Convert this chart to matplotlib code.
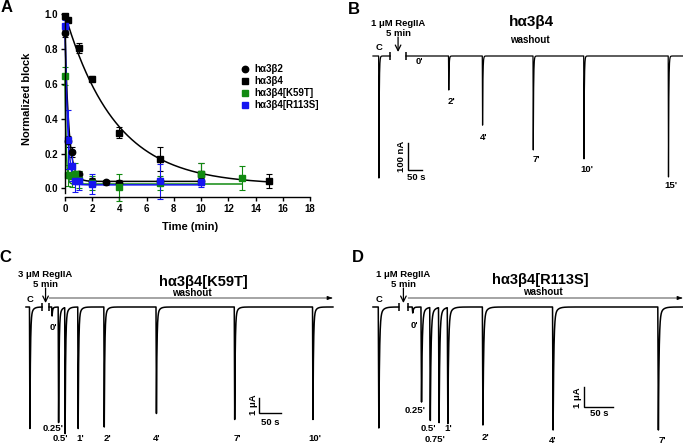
import numpy as np
import matplotlib
matplotlib.use('Agg')
import matplotlib.pyplot as plt

plt.rcParams['font.family'] = ['Liberation Sans', 'DejaVu Sans']
plt.rcParams['font.weight'] = 'bold'

W, H = 683, 444

# ---------- A: normalized block vs washout time (min)
b2_t = [0, 0.25, 0.5, 1, 2, 3, 4, 7, 10]
b2_y = [0.89, 0.27, 0.21, 0.08, 0.04, 0.035, 0.03, 0.04, 0.04]
b2_e = [0.02, 0.03, 0.03, 0.02, 0.02, 0.015, 0.02, 0.02, 0.02]

b4_t = [0, 0.25, 1, 2, 4, 7, 10, 15]
b4_y = [0.99, 0.97, 0.805, 0.63, 0.32, 0.17, 0.085, 0.04]
b4_e = [0.01, 0.01, 0.03, 0.015, 0.03, 0.07, 0.06, 0.04]

k59_t = [0, 0.25, 0.5, 0.75, 1, 2, 4, 7, 10, 13]
k59_y = [0.645, 0.075, 0.07, 0.085, 0.05, 0.03, 0.005, 0.03, 0.085, 0.06]
k59_e = [0.05, 0.06, 0.06, 0.06, 0.05, 0.04, 0.075, 0.04, 0.06, 0.07]

r113_t = [0, 0.25, 0.5, 0.75, 1, 2, 7, 10]
r113_y = [0.935, 0.28, 0.13, 0.04, 0.04, 0.025, 0.04, 0.035]
r113_e = [0.03, 0.17, 0.09, 0.06, 0.05, 0.06, 0.1, 0.03]

# one-phase decay fits: start, plateau, rate (1/min), last time
b2_fit = (0.89, 0.04, 3.5, 10)
b4_fit = (1.0, 0.02, 0.27, 15)
k59_fit = (0.645, 0.025, 12.0, 13)
r113_fit = (0.935, 0.02, 5.0, 10)

# ---------- B: ha3b4, 1 uM RegIIA (nA, s)
B_ctrl = (21, 452)          # time, peak
B_break = (61, 117)
B_zero, B_end = 149, 1107
B_wash = [0, 2, 4, 7, 10, 15]
B_amp = [0, 126, 256, 348, 381, 448]

# ---------- C: ha3b4[K59T], 3 uM RegIIA (uA, s)
C_ctrl = (9, 8.1)
C_break = (37, 53)
C_zero, C_end = 60, 706
C_wash = [0, 0.25, 0.5, 1, 2, 4, 7, 10]
C_amp = [0.6, 7.7, 8.4, 8.1, 8.0, 7.1, 7.5, 7.5]

# ---------- D: ha3b4[R113S], 1 uM RegIIA (uA, s)
D_ctrl = (10, 6.05)
D_break = (44, 60)
D_zero, D_end = 68, 530
D_wash = [0, 0.25, 0.5, 0.75, 1, 2, 4, 7]
D_amp = [0.3, 4.75, 5.65, 5.75, 5.8, 5.9, 6.15, 6.15]


fig = plt.figure(figsize=(W / 100, H / 100), dpi=100)


def ftext(x, y, s, **kw):
    kw.setdefault('ha', 'center')
    kw.setdefault('va', 'center')
    kw.setdefault('fontsize', 7)
    kw.setdefault('fontweight', 'bold')
    fig.text(x / W, 1 - y / H, s, **kw)


# ================= panel A
ax = fig.add_axes([65 / W, 1 - 192.7 / H, 245 / W, (192.7 - 14.3) / H])
series = [(b2_t, b2_y, b2_e, b2_fit, 'o', 'black', 4.6),
          (b4_t, b4_y, b4_e, b4_fit, 's', 'black', 5),
          (k59_t, k59_y, k59_e, k59_fit, 's', '#118a11', 5),
          (r113_t, r113_y, r113_e, r113_fit, 's', '#1515f0', 5)]
for t, y, e, fit, m, c, ms in series:
    y0, plat, k, tmax = fit
    tt = np.linspace(0, tmax, 500)
    ax.plot(tt, plat + (y0 - plat) * np.exp(-k * tt), color=c, lw=1.1, clip_on=False)
    eb = ax.errorbar(t, y, yerr=e, fmt=m, color=c, ms=ms, capsize=2.3,
                     elinewidth=0.8, capthick=0.8)
    for art in eb.get_children():
        art.set_clip_on(False)

ax.set_xlim(0, 18)
ax.set_ylim(-0.025, 1.0)
ax.set_xticks(range(0, 19, 2))
ax.set_yticks(np.arange(0, 1.01, 0.2))
ax.set_yticklabels(['%.1f' % v for v in np.arange(0, 1.01, 0.2)])
for s in ['top', 'right']:
    ax.spines[s].set_visible(False)
for s in ['left', 'bottom']:
    ax.spines[s].set_linewidth(1.0)
ax.spines['bottom'].set_position(('outward', 3))
ax.tick_params(length=3, width=1, labelsize=7, pad=2)
ftext(27, 99, 'Normalized block', rotation=90, fontsize=8)
ftext(190, 227, 'Time (min)', fontsize=8)

# legend
leg = [('o', 'black', 'h\u03b13\u03b22'), ('s', 'black', 'h\u03b13\u03b24'),
       ('s', '#118a11', 'h\u03b13\u03b24[K59T]'), ('s', '#1515f0', 'h\u03b13\u03b24[R113S]')]
for i, (m, c, lab) in enumerate(leg):
    yy = 69 + 12 * i
    fig.lines.append(plt.Line2D([245 / W], [1 - yy / H], marker=m, color=c, ms=4.6,
                                ls='', transform=fig.transFigure))
    ftext(254, yy, lab, ha='left', fontsize=7)


# ================= traces
def current(t, times, amps, rise=1.0, tau1=1.2, tau2=5.0):
    y = np.zeros_like(t)
    for ts, a in zip(times, amps):
        dt = t - ts
        up = (dt > -rise) & (dt < 0)
        y[up] -= a * (dt[up] + rise) / rise
        dn = dt >= 0
        y[dn] -= a * (0.9 * np.exp(-dt[dn] / tau1) + 0.1 * np.exp(-dt[dn] / tau2))
    return y


def trace_axes(box, origin, base, spp, upp):
    l, t, r, b = box
    a = fig.add_axes([l / W, 1 - b / H, (r - l) / W, (b - t) / H])
    a.set_xlim((l - origin) * spp, (r - origin) * spp)
    a.set_ylim((base - b) * upp, (base - t) * upp)
    a.axis('off')
    return a


def draw_trace(a, ctrl, brk, zero, end, wash, amps, upp, lw, bar, bar_unit, drug, tau2=5.0):
    t1 = np.arange(0, brk[0], 0.05)
    a.plot(t1, current(t1, [ctrl[0]], [ctrl[1]], tau2=tau2), color='k', lw=lw)
    t2 = np.arange(brk[1], end, 0.05)
    times = [zero + 60 * w for w in wash]
    a.plot(t2, current(t2, times, amps, tau2=tau2), color='k', lw=lw)
    # break marks
    a.vlines(brk, -4 * upp, 4 * upp, color='k', lw=1.1)
    mid = 0.5 * (brk[0] + brk[1])
    a.annotate('', xy=(mid, 4 * upp), xytext=(mid, 19 * upp),
               arrowprops=dict(arrowstyle='->', lw=0.9, color='k',
                               shrinkA=0, shrinkB=0))
    a.text(mid, 23 * upp, '5 min', ha='center', va='center', fontsize=6.8)
    a.text(mid, 33 * upp, drug, ha='center', va='center', fontsize=6.8)
    a.text(ctrl[0], 8 * upp, 'C', ha='center', va='center', fontsize=6.8)
    # washout arrow
    a.annotate('', xy=(end, 9 * upp), xytext=(brk[1], 9 * upp),
               arrowprops=dict(arrowstyle='-|>,head_length=0.35,head_width=0.12',
                               lw=0.5, color='k', shrinkA=0, shrinkB=0))
    # scale bar
    x0, y0 = bar
    a.plot([x0, x0, x0 + 50], [y0 + bar_unit, y0, y0], color='k', lw=1.0,
           solid_joinstyle='miter')


# B
axB = trace_axes((340, 0, 683, 222), 373, 56, 3.55, 100 / 27)
draw_trace(axB, B_ctrl, B_break, B_zero, B_end, B_wash, B_amp, 100 / 27, 0.9,
           (124, -422), 100, '1 \u03bcM RegIIA', tau2=2.0)
ftext(531, 22, 'h\u03b13\u03b24', fontsize=11)
ftext(530, 40, 'washout', fontsize=7)
ftext(402, 156, '100 nA', rotation=90, fontsize=6.8)
ftext(416, 177, '50 s', fontsize=6.8)
B_lab = [(419, 62), (451, 102), (484, 137), (536, 160), (587, 170), (671, 185)]
for w, (x, y) in zip(B_wash, B_lab):
    ftext(x, y, "%g'" % w, fontsize=6.8)

# C
axC = trace_axes((0, 222, 340, 444), 26, 307, 2.30, 1 / 15)
draw_trace(axC, C_ctrl, C_break, C_zero, C_end, C_wash, C_amp, 1 / 15, 1.1,
           (536, -7.07), 1, '3 \u03bcM RegIIA')
ftext(203, 282, 'h\u03b13\u03b24[K59T]', fontsize=10.5)
ftext(192, 293, 'washout', fontsize=7)
ftext(254, 405, '1 \u03bcA', rotation=90, fontsize=6.8)
ftext(270, 422, '50 s', fontsize=6.8)
C_lab = [(53, 327), (53, 428), (60, 438), (80, 438), (107, 438), (157, 438), (237, 438), (315, 438)]
for w, (x, y) in zip(C_wash, C_lab):
    ftext(x, y, "%g'" % w, fontsize=6.8)

# D
axD = trace_axes((340, 222, 683, 444), 373, 307, 1.71, 1 / 20)
draw_trace(axD, D_ctrl, D_break, D_zero, D_end, D_wash, D_amp, 1 / 20, 1.1,
           (361, -5.0), 1, '1 \u03bcM RegIIA')
ftext(540, 280, 'h\u03b13\u03b24[R113S]', fontsize=10.5)
ftext(543, 292, 'washout', fontsize=7)
ftext(578, 398, '1 \u03bcA', rotation=90, fontsize=6.8)
ftext(599, 413, '50 s', fontsize=6.8)
D_lab = [(414, 325), (415, 410), (428, 428), (435, 439), (448, 428), (485, 437), (553, 440), (662, 440)]
for w, (x, y) in zip(D_wash, D_lab):
    ftext(x, y, "%g'" % w, fontsize=6.8)

# panel letters
for x, y, s in [(7, 8, 'A'), (354, 9, 'B'), (5, 258, 'C'), (358, 258, 'D')]:
    ftext(x, y, s, fontsize=12)

fig.savefig('out.png', dpi=100)
